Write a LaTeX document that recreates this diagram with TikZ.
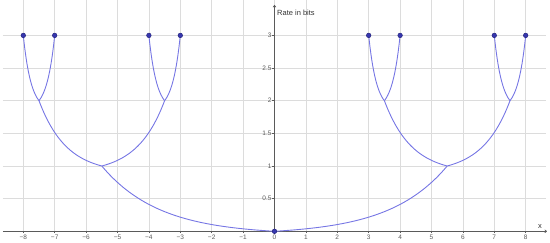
\documentclass[tikz,border=0pt]{standalone}
\usepackage{fontspec}
\setmainfont{Liberation Sans}
\usetikzlibrary{arrows.meta}
\definecolor{gridc}{RGB}{220,220,220}
\definecolor{axisc}{RGB}{90,90,90}
\definecolor{curvec}{RGB}{118,118,228}
\definecolor{dotfill}{RGB}{55,55,175}
\definecolor{dotdraw}{RGB}{35,35,125}
% branch from (x0,y0) rising by 1 over dx, shape (exp(k t)-1)/(exp(k)-1)
\newcommand\mybranch[4]{\draw[curveline] plot[domain=0:1,samples=90] ({#1+#3*\x},{#2+(exp(#4*\x)-1)/(exp(#4)-1)});}
\begin{document}
\begin{tikzpicture}[x=31.4pt,y=65.3pt,
  gridline/.style={draw=gridc,line width=0.6pt},
  axisline/.style={draw=axisc,line width=0.6pt,-{To[length=2.5pt,width=3.5pt]}},
  curveline/.style={draw=curvec,line width=0.9pt},
  tickxlab/.style={font=\fontsize{6.5}{7}\selectfont,text=axisc,inner sep=0pt,anchor=center},
  tickylab/.style={font=\fontsize{6.5}{7}\selectfont,text=axisc,inner sep=0pt,anchor=east},
  axislab/.style={font=\fontsize{7.5}{9}\selectfont,text=black!80,inner sep=0pt},
  ptdot/.style={circle,fill=dotfill,draw=dotdraw,line width=0.5pt,inner sep=0pt,minimum size=4.6pt}]
\useasboundingbox (-274.5pt,-11.7pt) rectangle (275.5pt,231.3pt);
% grid
\foreach \i in {-8,...,8}{\draw[gridline] (\i,-2pt) -- (\i,231.3pt);}
\foreach \j in {0.5,1,1.5,2,2.5,3}{\draw[gridline] (-271.5pt,\j) -- (272pt,\j);}
% axes
\coordinate (xs) at (-271.5pt,0);
\coordinate (xe) at (272.5pt,0);
\coordinate (ys) at (0,0);
\coordinate (ye) at (0,226.3pt);
\draw[axisline] (xs) -- (xe);
\draw[axisline] (ys) -- (ye);
\foreach \i in {-8,...,8}{\draw[draw=axisc,line width=0.5pt] (\i,0) -- (\i,-2pt);}
\foreach \j in {0.5,1,1.5,2,2.5,3}{\draw[draw=axisc,line width=0.5pt] (0,\j) -- (-2pt,\j);}
% tick labels
\foreach \i in {-8,...,8}{\node[tickxlab] (lx\i) at ([yshift=-5.8pt]\i,0) {\ifnum\i<0 −\the\numexpr-\i\relax\else\i\fi};}
\foreach \j/\n in {0.5/a,1/b,1.5/c,2/d,2.5/e,3/f}{\node[tickylab] (ly\n) at ([xshift=-2.8pt]0,\j) {\j};}
\node[axislab,anchor=west] (ylab) at (2.5pt,218.6pt) {Rate in bits};
\node[axislab] (xlab) at (265.5pt,4.5pt) {x};
% curves
\mybranch{0}{0}{5.5}{3}
\mybranch{0}{0}{-5.5}{3}
\mybranch{5.5}{1}{2}{2.3}
\mybranch{5.5}{1}{-2}{2.3}
\mybranch{-5.5}{1}{2}{2.3}
\mybranch{-5.5}{1}{-2}{2.3}
\mybranch{3.5}{2}{0.5}{2}
\mybranch{3.5}{2}{-0.5}{2}
\mybranch{7.5}{2}{0.5}{2}
\mybranch{7.5}{2}{-0.5}{2}
\mybranch{-3.5}{2}{0.5}{2}
\mybranch{-3.5}{2}{-0.5}{2}
\mybranch{-7.5}{2}{0.5}{2}
\mybranch{-7.5}{2}{-0.5}{2}
% points
\node[ptdot] (p0) at (0,0) {};
\node[ptdot] (pm8) at (-8,3) {};
\node[ptdot] (pm7) at (-7,3) {};
\node[ptdot] (pm4) at (-4,3) {};
\node[ptdot] (pm3) at (-3,3) {};
\node[ptdot] (p3) at (3,3) {};
\node[ptdot] (p4) at (4,3) {};
\node[ptdot] (p7) at (7,3) {};
\node[ptdot] (p8) at (8,3) {};
\end{tikzpicture}
\end{document}
